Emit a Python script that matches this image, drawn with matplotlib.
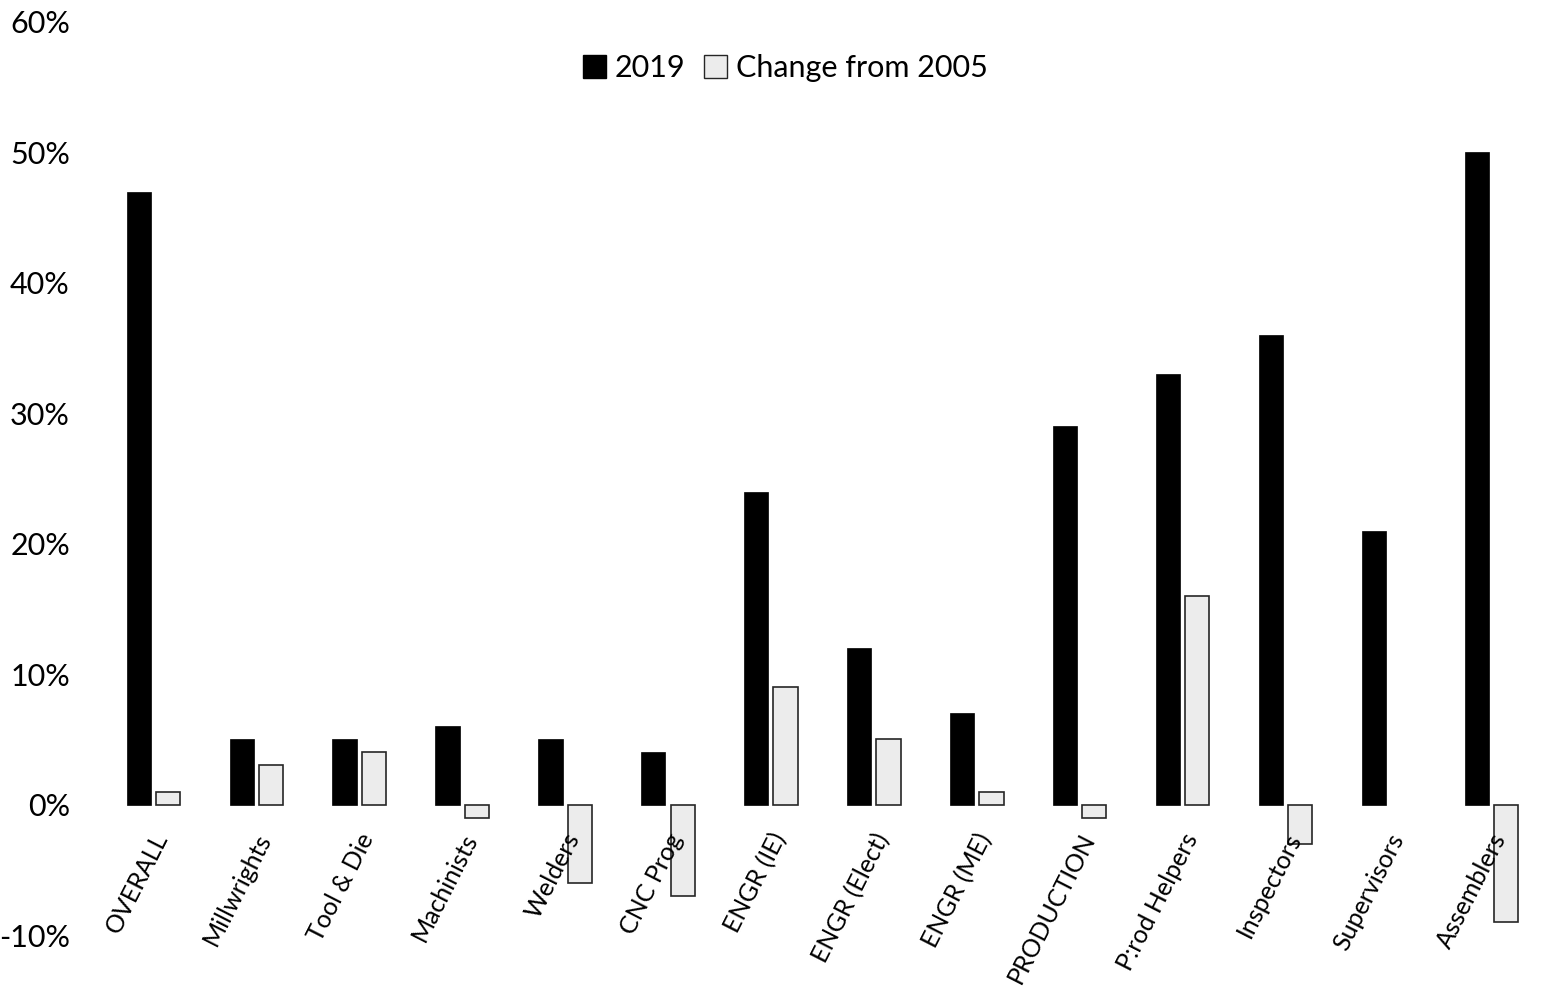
import numpy as np
import matplotlib
matplotlib.use("Agg")
import matplotlib.pyplot as plt
from matplotlib.patches import Patch

categories = ["OVERALL", "Millwrights", "Tool & Die", "Machinists", "Welders",
              "CNC Prog", "ENGR (IE)", "ENGR (Elect)", "ENGR (ME)", "PRODUCTION",
              "P:rod Helpers", "Inspectors", "Supervisors", "Assemblers"]
val_2019 = [47, 5, 5, 6, 5, 4, 24, 12, 7, 29, 33, 36, 21, 50]
change_2005 = [1, 3, 4, -1, -6, -7, 9, 5, 1, -1, 16, -3, np.nan, -9]
yticks = [-10, 0, 10, 20, 30, 40, 50, 60]

plt.rcParams['font.family'] = ['Lato', 'DejaVu Sans']

fig = plt.figure(figsize=(15.43, 9.89), dpi=100)
ax = fig.add_axes([0.066, 0.0546, 0.934, 0.9232])

x = np.arange(len(categories))
w = 0.235
off = 0.142
ax.bar(x - off, val_2019, width=w, color='black', edgecolor='black', linewidth=0.5, label='2019')
ax.bar(x + off, change_2005, width=w, color='#ececec', edgecolor='#262626', linewidth=1.2,
       label='Change from 2005')

ax.set_ylim(-10, 60)
ax.set_xlim(-0.5, len(categories) - 0.5)
ax.set_yticks(yticks)
ax.set_yticklabels([f"{t}%" for t in yticks], fontsize=22)
ax.tick_params(axis='y', length=0, pad=23)
ax.set_xticks([])
for s in ax.spines.values():
    s.set_visible(False)

for i, c in enumerate(categories):
    ax.annotate(c, xy=(i, 0), xytext=(9, -30), textcoords='offset pixels',
                ha='right', va='center', rotation=63, rotation_mode='anchor',
                fontsize=18, annotation_clip=False)

handles = [Patch(facecolor='black', edgecolor='black', label='2019'),
           Patch(facecolor='#ececec', edgecolor='#262626', linewidth=1.0, label='Change from 2005')]
fig.legend(handles=handles, loc='center', bbox_to_anchor=(0.509, 0.931), ncol=2,
           frameon=False, fontsize=22, handlelength=0.75, handleheight=0.75,
           handletextpad=0.3, columnspacing=0.6)

fig.savefig("out.png", dpi=100)
